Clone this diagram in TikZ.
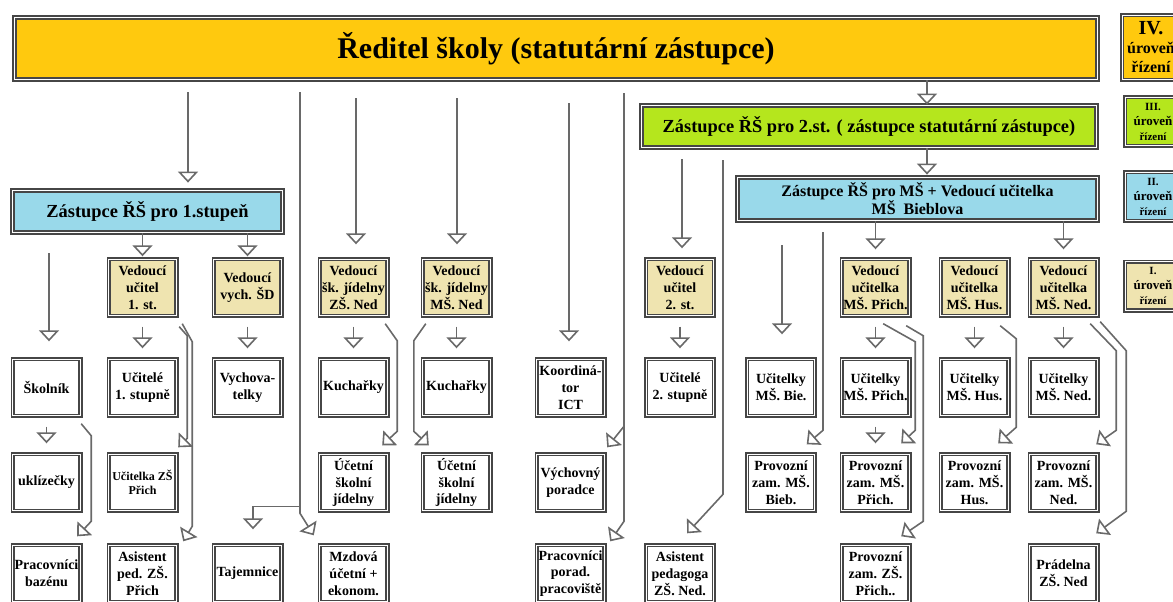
\documentclass[tikz,border=0pt]{standalone}
\usepackage{fontspec}
\setmainfont{Liberation Serif}
\usetikzlibrary{calc,arrows.meta}

\definecolor{gold}{RGB}{255,201,14}
\definecolor{lime}{RGB}{181,230,29}
\definecolor{sky}{RGB}{153,217,234}
\definecolor{sand}{RGB}{239,228,176}
\definecolor{rim}{RGB}{70,70,70}
\definecolor{linegray}{RGB}{105,105,105}

\tikzset{
	box/.style={draw=rim, double=white, double distance=0.5pt, line width=0.8pt, align=center, inner sep=0pt, minimum width=33.9pt, minimum height=28.4pt, font=\bfseries\fontsize{7}{8.4}\selectfont},
	head/.style={box, line width=1pt, double distance=0.6pt},
	lvl/.style={box, minimum width=27.9pt, minimum height=24.4pt, font=\bfseries\fontsize{6.5}{7.5}\selectfont},
	wire/.style={draw=linegray, line width=0.8pt},
	arr/.style={wire, -{Triangle[open, width=10pt, length=5.5pt]}}
}
\def\linkdown(#1)(#2){\draw[arr] ($(#1.south)+(0,10)$) -- ($(#2.north)+(0,-10)$);}

\begin{document}
\begin{tikzpicture}[x=0.5pt,y=-0.5pt]
			\useasboundingbox (0,0) rectangle (1173,601);
			\clip (0,0) rectangle (1173,601);
			
			%%%%% HEADS %%%%%
			
			\node[head, fill=gold, minimum width=541.4pt, minimum height=30.9pt, font=\bfseries\fontsize{15}{18}\selectfont] (reditel) at (556,48.5) {Ředitel školy (statutární zástupce)};
			\node[head, fill=lime, minimum width=227.4pt, minimum height=20.9pt, font=\bfseries\fontsize{9.2}{11}\selectfont] (zast2) at (869,126.5) {Zástupce ŘŠ pro 2.st. ( zástupce statutární zástupce)};
			\node[head, fill=sky, minimum width=134.9pt, minimum height=20.9pt, font=\bfseries\fontsize{9.2}{11}\selectfont] (zast1) at (147.5,211.5) {Zástupce ŘŠ pro 1.stupeň};
			\node[head, fill=sky, minimum width=179.9pt, minimum height=21.4pt, font=\bfseries\fontsize{8}{9}\selectfont] (zastms) at (917.5,199) {Zástupce ŘŠ pro MŠ + Vedoucí učitelka\\MŠ\ \ Bieblova};
			
			%%%%% LEVELS %%%%%
			
			\node[lvl, fill=gold, minimum width=28.9pt, minimum height=32.4pt, font=\bfseries\fontsize{8}{9.5}\selectfont] (lev4) at (1151,47.5) {{\fontsize{10}{10}\selectfont IV.}\\úroveň\\řízení};
			\node[lvl, fill=lime] (lev3) at (1153,121.5) {{\fontsize{5.5}{6}\selectfont III.}\\úroveň\\{\fontsize{5.5}{6}\selectfont řízení}};
			\node[lvl, fill=sky] (lev2) at (1153,196.5) {{\fontsize{5.5}{6}\selectfont II.}\\úroveň\\{\fontsize{5.5}{6}\selectfont řízení}};
			\node[lvl, fill=sand] (lev1) at (1153,286) {{\fontsize{5.5}{6}\selectfont I.}\\úroveň\\{\fontsize{5.5}{6}\selectfont řízení}};
			
			%%%%% ROW 1 %%%%%
			
			\node[box, fill=sand] (vuc1) at (142.5,287.5) {Vedoucí\\učitel\\1. st.};
			\node[box, fill=sand] (vych) at (247.5,287.5) {Vedoucí\\vych. ŠD};
			\node[box, fill=sand] (vsjz) at (353.5,287.5) {Vedoucí\\šk. jídelny\\ZŠ. Ned};
			\node[box, fill=sand] (vsjm) at (456.5,287.5) {Vedoucí\\šk. jídelny\\MŠ. Ned};
			\node[box, fill=sand] (vuc2) at (680,287.5) {Vedoucí\\učitel\\2. st.};
			\node[box, fill=sand] (vmp) at (875.5,287.5) {Vedoucí\\učitelka\\MŠ. Přich.};
			\node[box, fill=sand] (vmh) at (974.5,287.5) {Vedoucí\\učitelka\\MŠ. Hus.};
			\node[box, fill=sand] (vmn) at (1063.5,287.5) {Vedoucí\\učitelka\\MŠ. Ned.};
			
			%%%%% ROW 2 %%%%%
			
			\node[box] (skolnik) at (46.5,387.5) {Školník};
			\node[box] (uc1) at (142.5,387.5) {Učitelé\\1. stupně};
			\node[box] (vychov) at (247.5,387.5) {Vychova-\\telky};
			\node[box] (kuchz) at (353.5,387.5) {Kuchařky};
			\node[box] (kuchm) at (456.5,387.5) {Kuchařky};
			\node[box] (koord) at (570.5,387.5) {Koordiná-\\tor\\ICT};
			\node[box] (uc2) at (680,387.5) {Učitelé\\2. stupně};
			\node[box] (ucbie) at (781,387.5) {Učitelky\\MŠ. Bie.};
			\node[box] (ucprich) at (875.5,387.5) {Učitelky\\MŠ. Přich.};
			\node[box] (uchus) at (974.5,387.5) {Učitelky\\MŠ. Hus.};
			\node[box] (ucned) at (1063.5,387.5) {Učitelky\\MŠ. Ned.};
			
			%%%%% ROW 3 %%%%%
			
			\node[box] (uklid) at (46.5,482.5) {uklízečky};
			\node[box, font=\bfseries\fontsize{6}{7}\selectfont] (ucitzs) at (142.5,482.5) {Učitelka ZŠ\\Přich};
			\node[box] (uctz) at (353.5,482.5) {Účetní\\školní\\jídelny};
			\node[box] (uctm) at (456.5,482.5) {Účetní\\školní\\jídelny};
			\node[box] (vychpor) at (570.5,482.5) {Výchovný\\poradce};
			\node[box] (provbie) at (781,482.5) {Provozní\\zam. MŠ.\\Bieb.};
			\node[box] (provprich) at (875.5,482.5) {Provozní\\zam. MŠ.\\Přich.};
			\node[box] (provhus) at (974.5,482.5) {Provozní\\zam. MŠ.\\Hus.};
			\node[box] (provned) at (1063.5,482.5) {Provozní\\zam. MŠ.\\Ned.};
			
			%%%%% ROW 4 %%%%%
			
			\node[box] (bazen) at (46.5,573.5) {Pracovníci\\bazénu};
			\node[box] (asist1) at (142.5,573.5) {Asistent\\ped. ZŠ.\\Přich};
			\node[box] (tajem) at (247.5,573.5) {Tajemnice};
			\node[box] (mzdova) at (353.5,573.5) {Mzdová\\účetní +\\ekonom.};
			\node[box] (pracpor) at (570.5,573.5) {Pracovníci\\porad.\\pracoviště};
			\node[box] (asist2) at (680,573.5) {Asistent\\pedagoga\\ZŠ. Ned.};
			\node[box] (provzs) at (875.5,573.5) {Provozní\\zam. ZŠ.\\Přich..};
			\node[box] (pradelna) at (1063.5,573.5) {Prádelna\\ZŠ. Ned};
			
			%%%%% LINES %%%%%
			
			\coordinate (f1) at (188,92);
			\coordinate (f2) at (300,92);
			\coordinate (f3) at (356,98);
			\coordinate (f4) at (457,98);
			\coordinate (f5) at (569,103);
			\coordinate (f6) at (624,93);
			\coordinate (f7) at (49,253);
			\coordinate (f8) at (682,159);
			\coordinate (f9) at (723,160);
			\coordinate (f10) at (782,245);
			\coordinate (f11) at (823,232);
			\path ($(zast2.north)+(58,0)$) coordinate (z2in);
			\path ($(zastms.north)+(9.5,0)$) coordinate (msin);
			
			\draw[arr] (z2in |- reditel.south) -- (z2in);
			\draw[arr] (msin |- zast2.south) -- ($(msin)+(0,-2)$);
			\draw[arr] (f1) -- ($(f1 |- zast1.north)+(0,-7)$);
			\draw[arr] (f2) -- ($(f2 |- mzdova.north)+(0,-31)$) -- ($(mzdova.north west)+(-5,-9)$);
			\draw[arr] ($(f2 |- tajem.north)+(0,-38)$) -| ($(tajem.north)+(5.5,-15)$);
			\draw[arr] (f3) -- ($(f3 |- vsjz.north)+(0,-14)$);
			\draw[arr] (f4) -- ($(f4 |- vsjm.north)+(0,-14)$);
			\draw[arr] (f5) -- ($(f5 |- koord.north)+(0,-17)$);
			\draw[arr] (f6) -- ($(f6 |- pracpor.north)+(0,-23)$) -- ($(pracpor.north east)+(5,-3)$);
			\draw[arr] ($(f6 |- vychpor.north)+(0,-27)$) -- ($(vychpor.north east)+(2,-6)$);
			\draw[arr] (zast1.south -| vuc1) -- ($(vuc1.north)+(0,-2)$);
			\draw[arr] (zast1.south -| vych) -- ($(vych.north)+(0,-2)$);
			\draw[arr] (f7) -- ($(f7 |- skolnik.north)+(0,-17)$);
			\draw[arr] (f8) -- ($(f8 |- vuc2.north)+(0,-10)$);
			\draw[arr] (f9) -- ($(f9 |- asist2.north)+(0,-50)$) -- ($(asist2.north)+(7,-11)$);
			\draw[arr] (f10) -- ($(f10 |- ucbie.north)+(0,-24)$);
			\draw[arr] (f11) -- ($(f11 |- provbie.north)+(0,-23)$) -- ($(provbie.north east)+(-9,-9)$);
			\draw[arr] (zastms.south -| vmp) -- ($(vmp.north)+(0,-9)$);
			\draw[arr] (zastms.south -| vmn) -- ($(vmn.north)+(0,-9)$);
			
			\linkdown(vuc1)(uc1)
			\linkdown(vych)(vychov)
			\linkdown(vsjz)(kuchz)
			\linkdown(vsjm)(kuchm)
			\linkdown(vuc2)(uc2)
			\linkdown(vmp)(ucprich)
			\linkdown(vmh)(uchus)
			\linkdown(vmn)(ucned)
			\linkdown(skolnik)(uklid)
			\linkdown(ucprich)(provprich)
			
			\draw[arr] ($(skolnik.south east)+(0,7)$) -- ++(10,12) -- ($(bazen.north east)+(10,-23)$) -- ($(bazen.north east)+(-4,-8)$);
			\draw[arr] ($(vuc1.south east)+(2,10)$) -- ++(8,9) -- ($(ucitzs.north east)+(10,-15)$) -- ($(ucitzs.north east)+(1,-6)$);
			\draw[arr] ($(vuc1.south east)+(5,7)$) -- ++(10,18) -- ($(asist1.north east)+(15,-18)$) -- ($(asist1.north east)+(6,-3)$);
			\draw[arr] ($(vsjz.south east)+(-3,7)$) -- ++(12,17) -- ($(uctz.north east)+(9,-22)$) -- ($(uctz.north east)+(-6,-8)$);
			\draw[arr] ($(vsjm.south west)+(4,7)$) -- ++(-12,17) -- ($(uctm.north west)+(-8,-22)$) -- ($(uctm.north west)+(7,-8)$);
			\draw[arr] ($(vmp.south east)+(-27,7)$) -- ++(32,18) -- ($(provprich.north east)+(5,-23)$) -- ($(provprich.north east)+(-9,-10)$);
			\draw[arr] ($(vmp.south east)+(-4,9)$) -- ++(17,10) -- ($(provzs.north east)+(13,-23)$) -- ($(provzs.north east)+(-9,-8)$);
			\draw[arr] ($(vmh.south east)+(-9,9)$) -- ++(16,13) -- ($(provhus.north east)+(7,-26)$) -- ($(provhus.north east)+(-11,-10)$);
			\draw[arr] ($(vmn.south east)+(-8,7)$) -- ++(26,27) -- ($(provned.north east)+(18,-23)$) -- ($(provned.north east)+(-2,-9)$);
			\draw[arr] ($(vmn.south east)+(2,5)$) -- ++(26,29) -- ($(pradelna.north east)+(28,-33)$) -- ($(pradelna.north east)+(-2,-11)$);
			
		\end{tikzpicture}
\end{document}
